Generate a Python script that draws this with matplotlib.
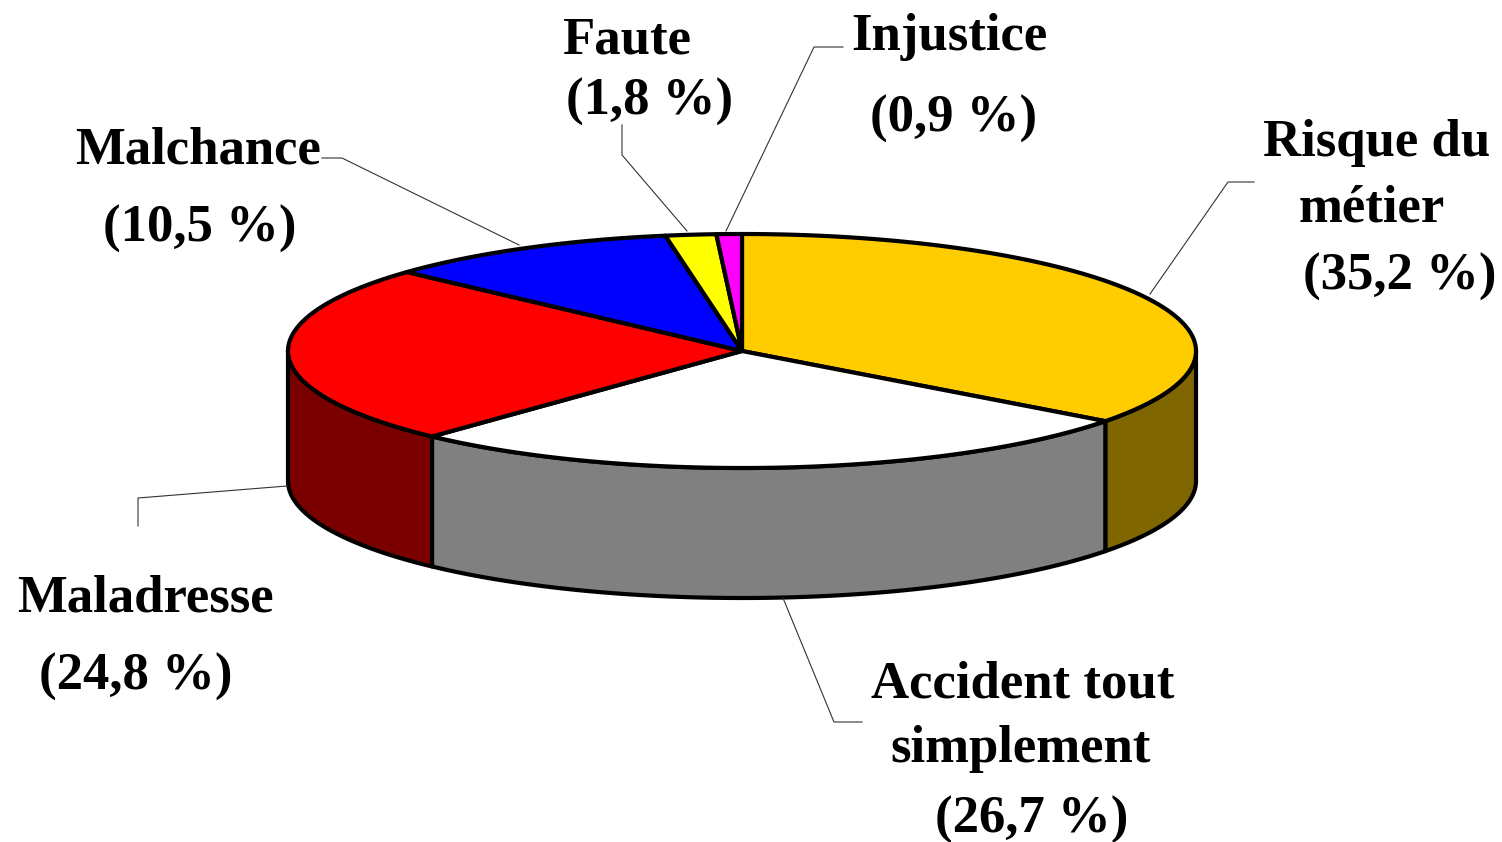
import numpy as np
import matplotlib
matplotlib.use("Agg")
import matplotlib.pyplot as plt
from matplotlib.patches import Polygon

# ---------------- data ----------------
categories = ["Risque du métier", "Accident tout simplement", "Maladresse",
              "Malchance", "Faute", "Injustice"]
values = [35.2, 26.7, 24.8, 10.5, 1.8, 0.9]
top_colors = ["#FFCC00", "#FFFFFF", "#FF0000", "#0000FF", "#FFFF00", "#FF00FF"]
side_colors = ["#806600", "#808080", "#7A0000", "#00007F", "#808000", "#800080"]
label_lines = [
    ["Risque du", "métier", "(35,2 %)"],
    ["Accident tout", "simplement", "(26,7 %)"],
    ["Maladresse", "(24,8 %)"],
    ["Malchance", "(10,5 %)"],
    ["Faute", "(1,8 %)"],
    ["Injustice", "(0,9 %)"],
]

# ---------------- layout ----------------
W, H = 1502, 842
cx, cy, a, b, depth = 742, 351, 454, 117, 130

# label positions (center x, baseline y) per line
label_pos = [
    [(1377, 156), (1372, 222), (1400, 290)],
    [(1023, 697), (1021, 762), (1032, 833)],
    [(145, 611), (136, 690)],
    [(198, 163), (200, 242)],
    [(627, 54), (650, 115)],
    [(949, 50), (954, 132)],
]
leaders = [
    [(1254, 182), (1228, 182), (1150, 294)],
    [(862, 722), (834, 722), (783, 598)],
    [(138, 526), (138, 498), (287, 486)],
    [(322, 158), (342, 158), (519, 245)],
    [(622, 125), (622, 155), (687, 231)],
    [(843, 47), (814, 47), (726, 231)],
]

fig = plt.figure(figsize=(W / 100, H / 100), dpi=100)
ax = fig.add_axes([0, 0, 1, 1])
ax.set_xlim(0, W)
ax.set_ylim(H, 0)
ax.axis("off")


def pt(theta_deg, dz=0.0):
    t = np.radians(theta_deg)
    return cx + a * np.sin(t), cy - b * np.cos(t) + dz


def arc(t1, t2, dz=0.0, n=200):
    ts = np.linspace(t1, t2, n)
    xs, ys = pt(ts, dz)
    return np.column_stack([xs, ys])


# angles (clockwise from 12 o'clock)
total = sum(values)
bounds = np.concatenate([[0], np.cumsum(values) / total * 360.0])

LW = 3.0
# side faces (front half: 90..270 deg)
for i in range(len(values)):
    t1, t2 = max(bounds[i], 90), min(bounds[i + 1], 270)
    if t2 <= t1:
        continue
    top = arc(t1, t2)
    bot = arc(t1, t2, depth)[::-1]
    poly = Polygon(np.vstack([top, bot]), closed=True, facecolor=side_colors[i],
                   edgecolor="black", linewidth=LW, joinstyle="round", zorder=2)
    ax.add_patch(poly)

# top faces
for i in range(len(values)):
    pts = np.vstack([[cx, cy], arc(bounds[i], bounds[i + 1])])
    poly = Polygon(pts, closed=True, facecolor=top_colors[i], edgecolor="black",
                   linewidth=LW, joinstyle="round", zorder=3)
    ax.add_patch(poly)

# leader lines
for seg in leaders:
    xs, ys = zip(*seg)
    ax.plot(xs, ys, color="#333333", linewidth=0.8, zorder=4)

# labels
for lines, poss in zip(label_lines, label_pos):
    for txt, (x, y) in zip(lines, poss):
        ax.text(x, y, txt, ha="center", va="baseline", fontsize=38,
                fontweight="bold", family="Liberation Serif", color="black",
                zorder=5)

fig.savefig("out.png", dpi=100, facecolor="white")
